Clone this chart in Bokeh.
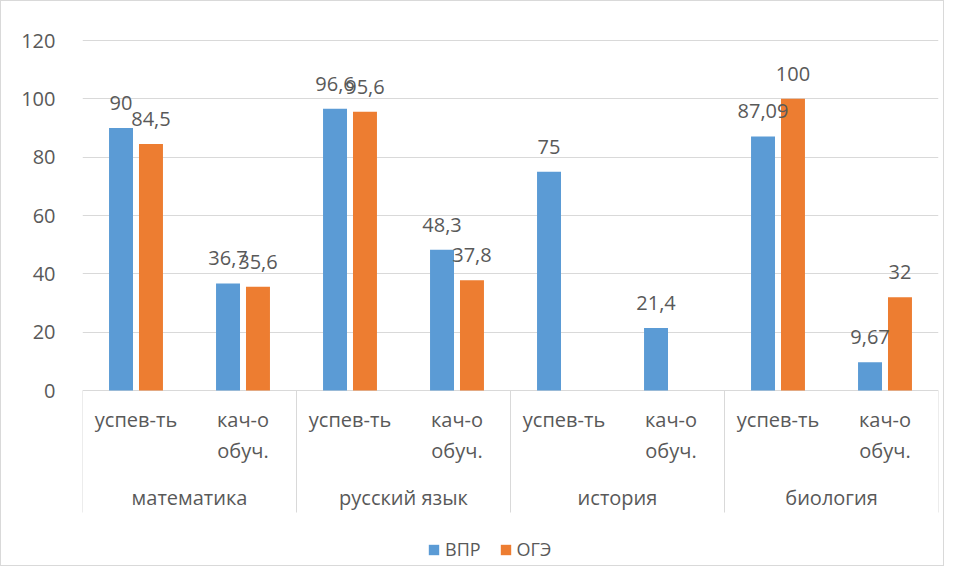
from bokeh.plotting import figure
from bokeh.models import ColumnDataSource, FactorRange, FixedTicker, Legend, LegendItem, Range1d
from bokeh.transform import dodge
from bokeh.core.properties import value
from bokeh.embed import file_html
from bokeh.resources import INLINE

# ---- data ----
subjects = ["математика", "русский язык", "история", "биология"]
metrics = ["успев-ть", "кач-о\nобуч."]
series = ["ВПР", "ОГЭ"]
vpr = [90, 36.7, 96.6, 48.3, 75, 21.4, 87.09, 9.67]
oge = [84.5, 35.6, 95.6, 37.8, None, None, 100, 32]
y_ticks = [0, 20, 40, 60, 80, 100, 120]

# ---- styling ----
FONT = "Open Sans"
TXT = "#595959"
GRID = "#D9D9D9"
BLUE = "#5B9BD5"
ORANGE = "#ED7D31"
PX_PER_UNIT = 350 / 120.0

factors = [(s, m) for s in subjects for m in metrics]


def fmt(v):
    return format(v, "g").replace(".", ",")


p = figure(
    width=944, height=566,
    x_range=FactorRange(*factors, factor_padding=0, group_padding=0, range_padding=0),
    y_range=Range1d(-177 / PX_PER_UNIT, 120 + 5 / PX_PER_UNIT),
    output_backend="svg", toolbar_location=None, x_axis_location=None,
    min_border_left=81, min_border_right=7, min_border_top=34, min_border_bottom=0,
)
p.styles = {"border": "1px solid #D9D9D9"}
p.outline_line_color = None
p.background_fill_color = "white"
p.border_fill_color = "white"

# y axis / grid
p.yaxis.ticker = FixedTicker(ticks=y_ticks)
p.ygrid.ticker = FixedTicker(ticks=y_ticks)
p.ygrid.grid_line_color = GRID
p.ygrid.grid_line_width = 1
p.xgrid.visible = False
p.yaxis.axis_line_color = None
p.yaxis.major_tick_line_color = None
p.yaxis.minor_tick_line_color = None
p.yaxis.major_label_standoff = 21
p.yaxis.major_label_text_font = FONT
p.yaxis.major_label_text_font_size = "20px"
p.yaxis.major_label_text_color = TXT

# bars
BW = 0.224
OFF = 0.14
src_v = ColumnDataSource(dict(x=factors, top=vpr, lab=[fmt(v) for v in vpr]))
ox = [f for f, v in zip(factors, oge) if v is not None]
ov = [v for v in oge if v is not None]
src_o = ColumnDataSource(dict(x=ox, top=ov, lab=[fmt(v) for v in ov]))

r_v = p.vbar(x=dodge("x", -OFF, range=p.x_range), top="top", bottom=0, width=BW,
             source=src_v, fill_color=BLUE, line_color=None)
r_o = p.vbar(x=dodge("x", OFF, range=p.x_range), top="top", bottom=0, width=BW,
             source=src_o, fill_color=ORANGE, line_color=None)

for src, off in ((src_v, -OFF), (src_o, OFF)):
    p.text(x=dodge("x", off, range=p.x_range), y="top", text="lab", source=src,
           text_align="center", text_baseline="alphabetic", y_offset=-25,
           text_font=value(FONT), text_font_size="20px", text_color=TXT)

# category axis drawn inside the (extended) frame
n_m = len(metrics)
bounds = [i * n_m for i in range(len(subjects) + 1)]
sep_bottom = -122 / PX_PER_UNIT
p.segment(x0=bounds, y0=[0] * len(bounds), x1=bounds, y1=[sep_bottom] * len(bounds),
          line_color=GRID, line_width=1)

max_lines = max(len(m.split("\n")) for m in metrics)
for li in range(max_lines):
    xs, ts = [], []
    for f in factors:
        parts = f[1].split("\n")
        if li < len(parts):
            xs.append(f)
            ts.append(parts[li])
    p.text(x=xs, y=[0] * len(xs), text=ts, text_align="center", text_baseline="alphabetic",
           y_offset=29 + 31 * li, text_font=value(FONT), text_font_size="20px", text_color=TXT)

gx = [n_m * (i + 0.5) for i in range(len(subjects))]
p.text(x=gx, y=[0] * len(gx), text=subjects, text_align="center", text_baseline="alphabetic",
       y_offset=107, text_font=value(FONT), text_font_size="20px", text_color=TXT)

# legend
legend = Legend(
    items=[LegendItem(label=series[0], renderers=[r_v]), LegendItem(label=series[1], renderers=[r_o])],
    location=(345, 6), orientation="horizontal",
    glyph_width=13, glyph_height=13, label_standoff=5, spacing=18, padding=0, margin=0,
    label_text_font=FONT, label_text_font_size="18px", label_text_color=TXT,
    border_line_color=None, background_fill_alpha=0,
)
p.add_layout(legend)

open("out.html", "w").write(file_html(p, INLINE))
